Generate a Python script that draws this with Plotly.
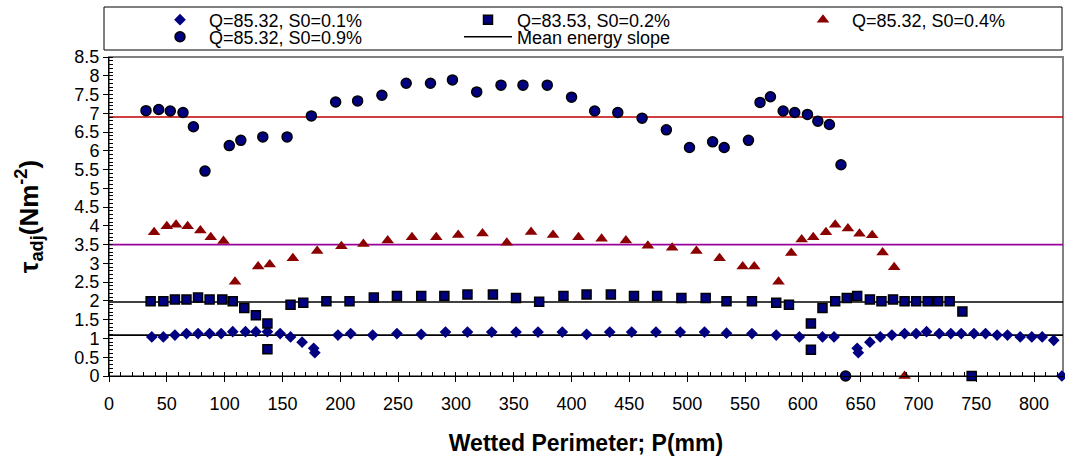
import plotly.graph_objects as go

# ---------------- data ----------------
x_d01 = [37, 47, 57, 67, 77, 87, 97, 107, 118, 127, 137, 148, 157, 167, 177, 178,
         198, 209, 228, 249, 270, 291, 310, 331, 352, 371, 392, 413, 433, 452, 473,
         494, 515, 534, 556, 577, 597, 617, 627, 647, 648, 658, 667, 677, 688, 698,
         707, 718, 728, 737, 748, 758, 768, 777, 788, 798, 807, 817, 824]
y_d01 = [1.04, 1.04, 1.09, 1.13, 1.13, 1.13, 1.13, 1.18, 1.18, 1.18, 1.18, 1.13, 1.04,
         0.90, 0.74, 0.62, 1.09, 1.13, 1.09, 1.13, 1.11, 1.17, 1.17, 1.17, 1.17, 1.17,
         1.17, 1.11, 1.17, 1.17, 1.17, 1.17, 1.17, 1.14, 1.13, 1.09, 1.04, 1.04, 1.04,
         0.74, 0.62, 0.90, 1.04, 1.09, 1.13, 1.13, 1.18, 1.13, 1.13, 1.13, 1.13, 1.13,
         1.09, 1.09, 1.04, 1.04, 1.04, 0.95, 0.0]

x_s02 = [36, 47, 57, 67, 77, 87, 98, 107, 117, 127, 137, 137, 157, 168, 188, 208,
         229, 249, 270, 290, 310, 332, 352, 372, 393, 413, 434, 454, 474, 495, 516,
         534, 556, 577, 588, 607, 607, 617, 628, 638, 647, 658, 668, 678, 688, 698,
         708, 717, 727, 738, 746]
y_s02 = [1.99, 1.99, 2.04, 2.04, 2.09, 2.04, 2.04, 1.99, 1.81, 1.62, 1.40, 0.71, 1.90,
         1.95, 1.99, 1.99, 2.09, 2.13, 2.13, 2.13, 2.17, 2.17, 2.08, 1.98, 2.13, 2.17,
         2.17, 2.13, 2.13, 2.08, 2.08, 1.99, 1.99, 1.95, 1.90, 1.40, 0.70, 1.81, 1.99,
         2.08, 2.13, 2.04, 1.99, 2.04, 1.99, 1.99, 1.99, 1.99, 1.99, 1.72, 0.0]

x_t04 = [39, 50, 58, 68, 79, 88, 99, 109, 129, 139, 159, 180, 201, 220, 241, 262,
         283, 302, 323, 344, 365, 384, 406, 426, 447, 466, 487, 508, 528, 548, 558,
         579, 590, 599, 609, 620, 628, 639, 649, 660, 669, 679, 688]
y_t04 = [3.83, 3.99, 4.03, 3.99, 3.88, 3.70, 3.60, 2.51, 2.92, 2.97, 3.14, 3.33, 3.46,
         3.52, 3.61, 3.70, 3.70, 3.76, 3.80, 3.55, 3.84, 3.76, 3.70, 3.66, 3.61, 3.47,
         3.42, 3.33, 3.14, 2.92, 2.92, 2.51, 3.28, 3.64, 3.70, 3.83, 4.03, 3.93, 3.79,
         3.75, 3.29, 2.90, 0.0]

x_c09 = [32, 43, 53, 64, 73, 83, 104, 114, 133, 154, 175, 196, 215, 236, 257, 278,
         297, 318, 339, 358, 379, 400, 420, 440, 461, 482, 502, 522, 532, 553, 563,
         572, 583, 593, 604, 613, 623, 633, 637]
y_c09 = [7.07, 7.10, 7.06, 7.02, 6.64, 5.46, 6.14, 6.28, 6.37, 6.37, 6.93, 7.30, 7.33,
         7.48, 7.80, 7.80, 7.89, 7.57, 7.75, 7.75, 7.75, 7.43, 7.06, 7.02, 6.87, 6.56,
         6.09, 6.24, 6.09, 6.28, 7.29, 7.44, 7.06, 7.02, 6.97, 6.79, 6.70, 5.63, 0.0]

series_names = ["Q=85.32, S0=0.1%", "Q=83.53, S0=0.2%", "Q=85.32, S0=0.4%",
                "Q=85.32, S0=0.9%"]
mean_name = "Mean energy slope"
mean_values = [1.09, 1.97, 3.50, 6.90]          # S0 = 0.1, 0.2, 0.4, 0.9 %
mean_span = [0, 825]                            # P range the mean lines cover
x_range = [0, 825]
y_range = [0, 8.5]

# ---------------- figure ----------------
FONT = "Liberation Sans, Arial, Helvetica, sans-serif"
NAVY = "#000080"
DRED = "#8B0000"
mean_colors = ["#000000", "#000000", "#990099", "#C00000"]

W, H = 1065, 466
ML, MR, MT, MB = 109, 2, 57, 90
PW, PH = W - ML - MR, H - MT - MB
ITEMW = 48


def px2paper_x(px):
    return (px - ML) / PW


def px2paper_y(py):
    return (H - MB - py) / PH


fig = go.Figure()

# mean energy slope lines (under the markers)
for i, (mv, col) in enumerate(zip(mean_values, mean_colors)):
    fig.add_trace(go.Scatter(
        x=mean_span, y=[mv, mv], mode="lines", name=mean_name,
        line=dict(color=col, width=1.6),
        showlegend=(i == 0), legend="legend5", hoverinfo="skip"))

fig.add_trace(go.Scatter(
    x=x_d01, y=y_d01, mode="markers", name=series_names[0], legend="legend",
    showlegend=True,
    marker=dict(symbol="diamond", size=9, color=NAVY, line=dict(width=0)),
    cliponaxis=False))
fig.add_trace(go.Scatter(
    x=x_s02, y=y_s02, mode="markers", name=series_names[1], legend="legend2",
    marker=dict(symbol="square", size=9, color=NAVY,
                line=dict(width=1.5, color="black")),
    cliponaxis=False))
fig.add_trace(go.Scatter(
    x=x_t04, y=y_t04, mode="markers", name=series_names[2], legend="legend3",
    marker=dict(symbol="triangle-up", size=11, color=DRED, line=dict(width=0)),
    cliponaxis=False))
fig.add_trace(go.Scatter(
    x=x_c09, y=y_c09, mode="markers", name=series_names[3], legend="legend4",
    marker=dict(symbol="circle", size=10, color=NAVY,
                line=dict(width=1.5, color="black")),
    cliponaxis=False))

leg_font = dict(family=FONT, size=18, color="black")


def leg(px_text, py):
    # place a one-item legend so that its text starts at px_text
    return dict(x=px2paper_x(px_text - ITEMW - 10), y=px2paper_y(py),
                xanchor="left", yanchor="middle", bgcolor="rgba(0,0,0,0)",
                borderwidth=0, font=leg_font, itemwidth=ITEMW, visible=True)


axis_common = dict(showline=True, linecolor="black", linewidth=1,
                   showgrid=False, zeroline=False, ticks="outside",
                   ticklen=5, tickcolor="black", tickwidth=1,
                   tickfont=dict(family=FONT, size=18, color="black"))

fig.update_layout(
    width=W, height=H,
    showlegend=True,
    margin=dict(l=ML, r=MR, t=MT, b=MB, pad=0),
    paper_bgcolor="white", plot_bgcolor="white",
    font=dict(family=FONT, size=18, color="black"),
    xaxis=dict(range=x_range, tickmode="linear", tick0=0, dtick=50,
               minor=dict(dtick=10, ticks="inside", ticklen=4,
                          tickcolor="black", showgrid=False),
               ticklabelstandoff=6,
               title=dict(text="<b>Wetted Perimeter; P(mm)</b>",
                          font=dict(family=FONT, size=23), standoff=22),
               **axis_common),
    yaxis=dict(range=y_range, tickmode="linear", tick0=0, dtick=0.5,
               minor=dict(dtick=0.1, ticks="inside", ticklen=4,
                          tickcolor="black", showgrid=False),
               title=dict(text="<b>τ<sub>adj</sub>(Nm<sup>-2</sup>)</b>",
                          font=dict(family=FONT, size=26), standoff=28),
               **axis_common),
    xaxis2=dict(overlaying="x", anchor="y", range=x_range, tickmode="linear",
                tick0=0, dtick=50, ticks="inside", ticklen=4,
                tickcolor="black", showticklabels=False, showline=False,
                showgrid=False, zeroline=False),
    yaxis2=dict(overlaying="y", anchor="x", side="left", range=y_range,
                tickmode="linear", tick0=0, dtick=0.5, ticks="inside",
                ticklen=4, tickcolor="black", showticklabels=False,
                showline=False, showgrid=False, zeroline=False),
    legend=leg(209, 20),
    legend2=leg(517, 20),
    legend3=leg(852, 20),
    legend4=leg(209, 37),
    legend5=leg(517, 37),
    shapes=[
        # plot-area frame (grey)
        dict(type="rect", xref="paper", yref="paper", x0=0, x1=1, y0=0, y1=1,
             line=dict(color="#808080", width=2), layer="below"),
        # legend box
        dict(type="rect", xref="paper", yref="paper",
             x0=px2paper_x(104), x1=px2paper_x(1062),
             y0=px2paper_y(50), y1=px2paper_y(7),
             line=dict(color="black", width=1), fillcolor="rgba(0,0,0,0)"),
    ],
)

fig.write_html("out.html")
